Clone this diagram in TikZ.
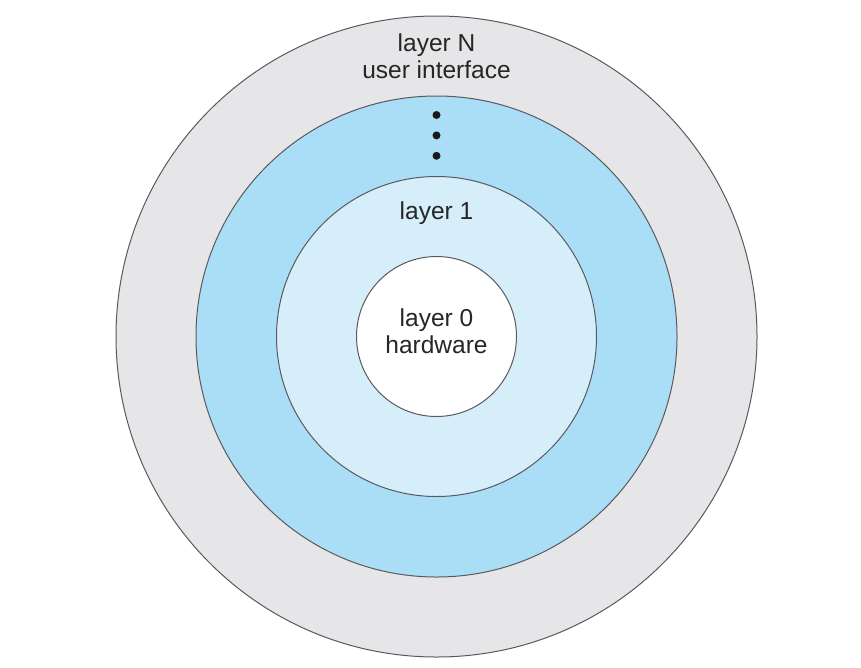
\documentclass[tikz,border=0pt]{standalone}
\usepackage{fontspec}
\setmainfont{Liberation Sans}
\usetikzlibrary{positioning}
\definecolor{ringgray}{HTML}{E6E6E8}
\definecolor{ringblue}{HTML}{A9DEF6}
\definecolor{ringpale}{HTML}{D5EEFA}
\definecolor{edgegray}{HTML}{5A5A5E}
\tikzset{
ring/.style={circle,draw=edgegray,line width=1pt,inner sep=0pt},
lbl/.style={font=\fontsize{24.5}{27.5}\selectfont,text=black!85,align=center,inner sep=0pt},
dot/.style={circle,fill=black!90,inner sep=0pt,minimum size=8pt},
}

\begin{document}
\begin{tikzpicture}[x=1pt,y=-1pt]
	\useasboundingbox (0,0) rectangle (861,667);
	\coordinate (c) at (436.5,336.5);

	\node[ring,fill=ringgray,minimum size=641pt] (layerN) at (c) {};
	\node[ring,fill=ringblue,minimum size=481pt] (layerk) at (c) {};
	\node[ring,fill=ringpale,minimum size=320pt] (layer1) at (c) {};
	\node[ring,fill=white,minimum size=160pt] (layer0) at (c) {};

	\node[lbl] (txtN) at (436.5,56) {layer N\\user interface};
	\node[dot] (d1) at (436.5,115) {};
	\node[dot,below=12pt of d1] (d2) {};
	\node[dot,below=12pt of d2] (d3) {};
	\node[lbl] (txt1) at (436.5,213) {layer 1};
	\node[lbl] (txt0) at (436.5,331) {layer 0\\hardware};
\end{tikzpicture}
\end{document}
